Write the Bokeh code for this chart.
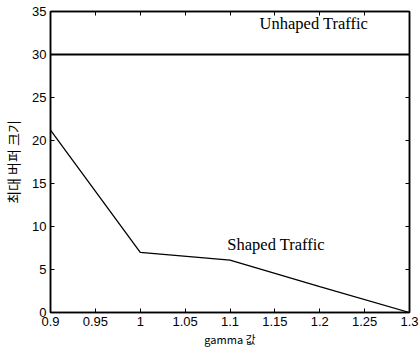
from bokeh.plotting import figure
from bokeh.models import LinearAxis, Range1d, FixedTicker, ColumnDataSource
from bokeh.embed import file_html
from bokeh.resources import INLINE
from bokeh.core.properties import value

gamma = [0.9, 1.0, 1.1, 1.2, 1.3]
shaped = [21.2, 7.0, 6.1, 3.0, 0.0]
unshaped = [30.0, 30.0, 30.0, 30.0, 30.0]

x_ticks = [0.9, 0.95, 1.0, 1.05, 1.1, 1.15, 1.2, 1.25, 1.3]
x_tick_labels = ["0.9", "0.95", "1", "1.05", "1.1", "1.15", "1.2", "1.25", "1.3"]
y_ticks = [0, 5, 10, 15, 20, 25, 30, 35]

note_text = ["Unhaped Traffic", "Shaped Traffic"]
note_x = [1.133, 1.097]
note_y = [33.6, 7.9]

x_label = "gamma 값"
y_label = "최대 버퍼 크기"

p = figure(width=419, height=349, x_range=Range1d(0.9, 1.3), y_range=Range1d(0, 35),
           output_backend="svg", toolbar_location=None,
           min_border_left=50, min_border_right=10, min_border_top=11, min_border_bottom=37)
p.xgrid.visible = False
p.ygrid.visible = False
p.outline_line_color = "black"
p.outline_line_width = 1.5
p.outline_line_alpha = 1.0
p.background_fill_color = "white"
p.border_fill_color = "white"

xt = FixedTicker(ticks=x_ticks)
yt = FixedTicker(ticks=y_ticks)

for ax in [p.xaxis[0], p.yaxis[0]]:
    ax.major_tick_in = 4
    ax.major_tick_out = 0
    ax.minor_tick_line_color = None
    ax.axis_line_color = "black"
    ax.axis_line_width = 1.5
    ax.major_label_text_font = "Liberation Sans"
    ax.major_label_text_font_size = "13px"
    ax.major_label_text_color = "black"
    ax.axis_label_text_font_style = "normal"
    ax.axis_label_text_color = "black"

p.xaxis[0].ticker = xt
p.xaxis[0].major_label_overrides = {t: l for t, l in zip(x_ticks, x_tick_labels)}
p.xaxis[0].major_label_standoff = 4
p.xaxis[0].axis_label = x_label
p.xaxis[0].axis_label_text_font = "Noto Sans CJK KR"
p.xaxis[0].axis_label_text_font_size = "11px"
p.xaxis[0].axis_label_standoff = 2

p.yaxis[0].ticker = yt
p.yaxis[0].major_label_standoff = 4
p.yaxis[0].axis_label = y_label
p.yaxis[0].axis_label_text_font = "Noto Sans CJK KR"
p.yaxis[0].axis_label_text_font_size = "14px"
p.yaxis[0].axis_label_standoff = 6

top = LinearAxis(ticker=xt, major_label_text_font_size="0px", major_tick_in=4, major_tick_out=0,
                 minor_tick_line_color=None, major_label_standoff=0, axis_line_width=1.5)
right = LinearAxis(ticker=yt, major_label_text_font_size="0px", major_tick_in=4, major_tick_out=0,
                   minor_tick_line_color=None, major_label_standoff=0, axis_line_width=1.5)
p.add_layout(top, "above")
p.add_layout(right, "right")

p.line(gamma, unshaped, line_color="black", line_width=2)
p.line(gamma, shaped, line_color="black", line_width=1.3)

src = ColumnDataSource(dict(x=note_x, y=note_y, t=note_text))
p.text(x="x", y="y", text="t", source=src, text_font=value("Liberation Serif"),
       text_font_size="16.5px", text_color="black", text_baseline="alphabetic", text_align="left")

open("out.html", "w").write(file_html(p, INLINE))
